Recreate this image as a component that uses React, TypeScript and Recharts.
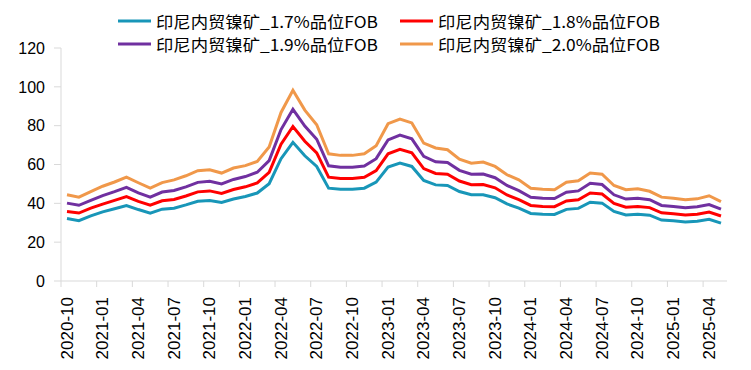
import React from 'react';
import { LineChart, Line, XAxis, YAxis } from 'recharts';

const months = [
  '2020-10', '2020-11', '2020-12',
  '2021-01', '2021-02', '2021-03', '2021-04', '2021-05', '2021-06',
  '2021-07', '2021-08', '2021-09', '2021-10', '2021-11', '2021-12',
  '2022-01', '2022-02', '2022-03', '2022-04', '2022-05', '2022-06',
  '2022-07', '2022-08', '2022-09', '2022-10', '2022-11', '2022-12',
  '2023-01', '2023-02', '2023-03', '2023-04', '2023-05', '2023-06',
  '2023-07', '2023-08', '2023-09', '2023-10', '2023-11', '2023-12',
  '2024-01', '2024-02', '2024-03', '2024-04', '2024-05', '2024-06',
  '2024-07', '2024-08', '2024-09', '2024-10', '2024-11', '2024-12',
  '2025-01', '2025-02', '2025-03', '2025-04', '2025-05',
];

const grade17 = [
  32.2, 31.1, 33.5, 35.6, 37.2, 38.9, 36.8, 34.9, 37.0, 37.5, 39.2, 41.1, 41.5, 40.4,
  42.2, 43.5, 45.3, 50.1, 63.0, 71.4, 64.5, 59.0, 47.8, 47.3, 47.3, 47.8, 50.9, 58.7,
  60.7, 59.0, 51.8, 49.5, 49.2, 46.1, 44.4, 44.4, 42.9, 39.7, 37.5, 34.8, 34.4, 34.3,
  36.9, 37.4, 40.6, 40.1, 35.8, 34.0, 34.4, 33.9, 31.4, 31.0, 30.4, 30.8, 31.8, 29.8,
];

const grade18 = [
  35.8, 35.0, 37.5, 39.6, 41.5, 43.5, 41.0, 39.0, 41.3, 42.0, 43.8, 45.9, 46.4, 45.1,
  47.1, 48.5, 50.5, 56.0, 70.5, 79.6, 72.0, 66.0, 53.5, 52.8, 52.8, 53.4, 56.9, 65.5,
  67.8, 66.0, 57.9, 55.4, 55.0, 51.5, 49.6, 49.7, 48.0, 44.3, 41.9, 38.9, 38.4, 38.3,
  41.2, 41.8, 45.3, 44.8, 40.0, 38.0, 38.4, 37.8, 35.1, 34.6, 34.0, 34.4, 35.5, 33.5,
];

const grade19 = [
  40.1, 39.0, 41.5, 44.0, 46.0, 48.2, 45.4, 43.2, 45.8, 46.6, 48.5, 50.8, 51.4, 50.0,
  52.3, 53.8, 56.0, 62.0, 78.0, 88.4, 79.8, 73.0, 59.3, 58.6, 58.6, 59.2, 63.0, 72.7,
  75.2, 73.2, 64.2, 61.4, 61.0, 57.0, 55.0, 55.1, 53.2, 49.2, 46.5, 43.1, 42.6, 42.5,
  45.7, 46.4, 50.3, 49.7, 44.4, 42.2, 42.6, 41.9, 38.9, 38.4, 37.7, 38.2, 39.4, 37.0,
];

const grade20 = [
  44.4, 43.2, 46.0, 48.8, 51.0, 53.5, 50.6, 47.8, 50.7, 52.1, 54.2, 56.8, 57.3, 55.6,
  58.2, 59.4, 61.6, 69.0, 86.8, 98.2, 88.0, 80.5, 65.5, 64.7, 64.7, 65.5, 69.7, 81.0,
  83.4, 81.4, 71.0, 68.5, 67.6, 62.8, 60.7, 61.3, 59.0, 54.7, 52.1, 47.8, 47.3, 47.0,
  50.9, 51.6, 55.6, 55.0, 49.2, 47.0, 47.5, 46.2, 43.2, 42.6, 41.8, 42.3, 43.9, 40.9,
];

const yTicks = [0, 20, 40, 60, 80, 100, 120];

const series = [
  { key: 'g17', name: '印尼内贸镍矿_1.7%品位FOB', color: '#1896b8', values: grade17 },
  { key: 'g18', name: '印尼内贸镍矿_1.8%品位FOB', color: '#ff0000', values: grade18 },
  { key: 'g19', name: '印尼内贸镍矿_1.9%品位FOB', color: '#7030a0', values: grade19 },
  { key: 'g20', name: '印尼内贸镍矿_2.0%品位FOB', color: '#f0984a', values: grade20 },
];

const data = months.map((m, i) => {
  const row: Record<string, string | number> = { month: m };
  series.forEach((s) => {
    row[s.key] = s.values[i];
  });
  return row;
});

const axisColor = '#d9d9d9';

// month labels rotated like excel, tick mark sits on the category boundary
const MonthTick = (props: any) => {
  const { x, y, payload } = props;
  return (
    <g>
      <line x1={x - 6} x2={x - 6} y1={y - 8} y2={y - 2} stroke={axisColor} />
      <text
        transform={`translate(${x},${y + 8}) rotate(-90)`}
        textAnchor="end"
        dominantBaseline="central"
        fontSize={17}
        fontFamily="'Liberation Sans', Arial, sans-serif"
        fill="#000"
      >
        {payload.value}
      </text>
    </g>
  );
};

const LegendBox = () => (
  <svg width={751} height={56} style={{ position: 'absolute', left: 0, top: 0 }}>
    {series.map((s, i) => {
      const col = i % 2;
      const row = Math.floor(i / 2);
      const x0 = 118 + col * 282;
      const y0 = 21 + row * 23;
      return (
        <g key={s.key}>
          <line x1={x0} x2={x0 + 33} y1={y0} y2={y0} stroke={s.color} strokeWidth={3} />
          <text
            x={x0 + 38}
            y={y0}
            dominantBaseline="central"
            fontSize={16}
            fontFamily="'Liberation Sans Narrow', 'Noto Sans CJK SC', sans-serif"
            textLength={222}
            lengthAdjust="spacingAndGlyphs"
            fill="#000"
          >
            {s.name}
          </text>
        </g>
      );
    })}
  </svg>
);

export default function App() {
  return (
    <div style={{ position: 'relative', width: 751, height: 370, background: '#fff' }}>
      <style>{'body{margin:0;}'}</style>
      <LineChart
        width={751}
        height={370}
        data={data}
        margin={{ top: 48, right: 24, bottom: 4, left: 0 }}
      >
        <XAxis
          dataKey="month"
          interval={2}
          height={85}
          padding={{ left: 6, right: 6 }}
          axisLine={{ stroke: axisColor }}
          tickLine={false}
          tick={<MonthTick />}
        />
        <YAxis
          domain={[0, 120]}
          ticks={yTicks}
          width={61}
          tickSize={7}
          tickMargin={9}
          axisLine={{ stroke: axisColor }}
          tickLine={{ stroke: axisColor }}
          tick={{
            fontSize: 16,
            fill: '#000',
            fontFamily: "'Liberation Sans Narrow', 'Liberation Sans', sans-serif",
          }}
        />
        {series.map((s) => (
          <Line
            key={s.key}
            type="linear"
            dataKey={s.key}
            name={s.name}
            stroke={s.color}
            strokeWidth={3}
            dot={false}
            isAnimationActive={false}
          />
        ))}
      </LineChart>
      <LegendBox />
    </div>
  );
}
